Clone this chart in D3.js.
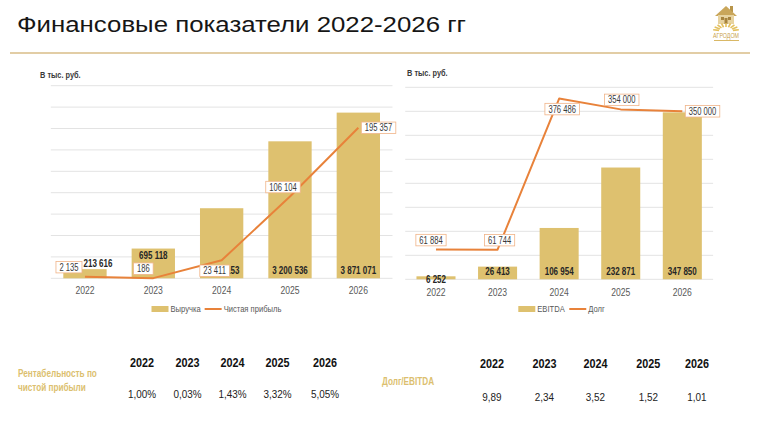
<!DOCTYPE html>
<html><head><meta charset="utf-8">
<script src="https://cdn.jsdelivr.net/npm/d3@7"></script>
<style>
html,body{margin:0;padding:0;background:#fff;}
svg{display:block;}
</style></head>
<body>
<svg id="c" width="758" height="424"></svg>
<script>
// ---------- DATA ----------
const years = ["2022","2023","2024","2025","2026"];
const revenue = [213616, 695118, 1637153, 3200536, 3871071];
const netProfit = [2135, 186, 23411, 106104, 195357];
const ebitda = [6252, 26413, 106954, 232871, 347850];
const debt = [61884, 61744, 376486, 354000, 350000];
const profitability = ["1,00%", "0,03%", "1,43%", "3,32%", "5,05%"];
const debtToEbitda = ["9,89", "2,34", "3,52", "1,52", "1,01"];
const leftAxisTicks = d3.range(0, 4500001, 500000);
const rightAxisTicks = d3.range(0, 400001, 50000);

// ---------- STYLE / LAYOUT ----------
const BAR = "#dec16f", LINE = "#e8823a", GOLD = "#dcbf6f", GRID = "#e3e3e3";
const FONT = "'Liberation Sans',Arial,sans-serif";
const fmt = v => d3.format(",")(v).replace(/,/g, " ");
const svg = d3.select("#c");
// condense a text horizontally (reference uses a narrow face)
function condense(sel, f) {
  sel.each(function () {
    const L = this.getComputedTextLength();
    d3.select(this).attr("textLength", L * f).attr("lengthAdjust", "spacingAndGlyphs");
  });
  return sel;
}

// Title
const title = svg.append("text").attr("x", 17).attr("y", 32)
  .attr("font-family", FONT).attr("font-size", 21.5)
  .attr("fill", "#161616").text("Финансовые показатели 2022-2026 гг");
title.attr("textLength", 449).attr("lengthAdjust", "spacingAndGlyphs");
svg.append("line").attr("x1", 10).attr("x2", 750).attr("y1", 53).attr("y2", 53)
  .attr("stroke", "#e2cda5").attr("stroke-width", 2);

// Logo
const logo = svg.append("g").attr("transform", "translate(713,4)");
logo.append("rect").attr("x", 17).attr("y", 2).attr("width", 3).attr("height", 6).attr("fill", "#b8954a");
logo.append("path").attr("d", "M2,12 L13,2 L24,12 Z").attr("fill", "#c9a65a");
logo.append("rect").attr("x", 5).attr("y", 11).attr("width", 16).attr("height", 9).attr("fill", "#e7d3a0");
logo.append("rect").attr("x", 8).attr("y", 13).attr("width", 3).attr("height", 3).attr("fill", "#a7843e");
logo.append("rect").attr("x", 15).attr("y", 13).attr("width", 3).attr("height", 3).attr("fill", "#a7843e");
logo.append("rect").attr("x", 11.5).attr("y", 14).attr("width", 3).attr("height", 6).attr("fill", "#a7843e");
for (let i = 0; i < 9; i++) {
  const a = Math.PI * (0.05 + 0.9 * i / 8);
  logo.append("line").attr("x1", 13 - Math.cos(a) * 7).attr("y1", 27 - Math.sin(a) * 4)
    .attr("x2", 13 - Math.cos(a) * 13).attr("y2", 27 - Math.sin(a) * 8)
    .attr("stroke", "#e3c05e").attr("stroke-width", 1.6);
}
logo.append("text").attr("x", 13).attr("y", 34).attr("text-anchor", "middle")
  .attr("font-family", FONT).attr("font-size", 7).attr("fill", "#c9a24a")
  .attr("textLength", 26).attr("lengthAdjust", "spacingAndGlyphs").text("АГРОДОМ");
logo.append("line").attr("x1", 1).attr("x2", 26).attr("y1", 36.5).attr("y2", 36.5)
  .attr("stroke", "#d9b866").attr("stroke-width", 1);

// ---------- generic combo chart ----------
function combo(cfg) {
  const g = svg.append("g");
  const x = d3.scaleBand().domain(years).range(cfg.xr).paddingInner(0.366).paddingOuter(0.183);
  const y = d3.scaleLinear().domain([0, cfg.yMax]).range([cfg.base, cfg.top]);
  const y2 = d3.scaleLinear().domain([0, cfg.y2Max]).range([cfg.base, cfg.top]);
  const cx = d => x(d) + x.bandwidth() / 2;

  condense(g.append("text").attr("x", cfg.unitX).attr("y", cfg.unitY).attr("font-family", FONT)
    .attr("font-size", 9).attr("font-weight", "bold").attr("fill", "#3a3a3a").text("В тыс. руб."), 0.82);

  g.selectAll(".grid").data(cfg.ticks).join("line")
    .attr("x1", cfg.xr[0]).attr("x2", cfg.xr[1])
    .attr("y1", d => y(d)).attr("y2", d => y(d))
    .attr("stroke", GRID).attr("stroke-width", 1);

  g.selectAll(".bar").data(cfg.bars).join("rect")
    .attr("x", (d, i) => x(years[i])).attr("width", x.bandwidth())
    .attr("y", d => y(d)).attr("height", d => cfg.base - y(d)).attr("fill", BAR);

  // x axis labels
  const ax = g.append("g").attr("transform", `translate(0,${cfg.base})`)
    .call(d3.axisBottom(x).tickSize(0).tickPadding(cfg.tickPad));
  ax.select(".domain").remove();
  condense(ax.selectAll("text").attr("font-family", FONT).attr("font-size", 10.5).attr("fill", "#595959"), 0.82);

  // bar labels
  cfg.bars.forEach((v, i) => {
    const mode = cfg.barLabelMode[i];
    let lx = cx(years[i]), ly = cfg.base - 8;
    if (mode === "insideTop") ly = y(v) + 6.5;
    if (mode === "aboveRight") { ly = y(v) - 6; lx += 13; }
    if (mode === "center") ly = (y(v) + cfg.base) / 2 + 2;
    if (mode === "base") ly = cfg.base - 7.7;
    condense(g.append("text").attr("x", lx).attr("y", ly).attr("dy", "0.35em").attr("text-anchor", "middle")
      .attr("font-family", FONT).attr("font-size", 10).attr("font-weight", "bold")
      .attr("fill", "#262626").text(fmt(v)), 0.8);
  });

  // line
  const line = d3.line().x((d, i) => cx(years[i])).y(d => y2(d));
  g.append("path").datum(cfg.line).attr("d", line).attr("fill", "none")
    .attr("stroke", LINE).attr("stroke-width", 2).attr("stroke-linejoin", "round");

  // line labels
  cfg.line.forEach((v, i) => {
    const p = cfg.lineLabelPos[i];
    const px = cx(years[i]), py = y2(v);
    const lg = g.append("g");
    const t = lg.append("text").attr("font-family", FONT).attr("font-size", 10)
      .attr("fill", "#3a3a3a").attr("text-anchor", "middle").attr("dy", "0.35em").text(fmt(v));
    const f = 0.76;
    const w = t.node().getComputedTextLength() * f + 7, h = 11.5;
    condense(t, f);
    let bx, by;
    if (p.side === "above") { bx = px + p.nudge; by = py - 9.5; }
    else if (p.side === "below") { bx = px + p.nudge; by = py + 10.5; }
    else { bx = px + 3 + w / 2; by = py; }
    t.attr("x", bx).attr("y", by);
    lg.insert("rect", "text").attr("x", bx - w / 2).attr("y", by - h / 2).attr("width", w).attr("height", h)
      .attr("fill", "#fff").attr("stroke", "#f0b488").attr("stroke-width", 0.8);
  });

  // legend
  const lgd = g.append("g");
  lgd.append("rect").attr("x", cfg.legX).attr("y", cfg.legY - 3).attr("width", 17).attr("height", 6).attr("fill", BAR);
  const t1 = condense(lgd.append("text").attr("x", cfg.legX + 19).attr("y", cfg.legY).attr("dy", "0.35em")
    .attr("font-family", FONT).attr("font-size", 9.5).attr("fill", "#595959").text(cfg.barName), 0.8);
  const lx0 = cfg.legX + 19 + t1.node().getComputedTextLength() * 0.8 + 10;
  lgd.append("line").attr("x1", lx0).attr("x2", lx0 + 17).attr("y1", cfg.legY).attr("y2", cfg.legY)
    .attr("stroke", LINE).attr("stroke-width", 2);
  condense(lgd.append("text").attr("x", lx0 + 19).attr("y", cfg.legY).attr("dy", "0.35em")
    .attr("font-family", FONT).attr("font-size", 9.5).attr("fill", "#595959").text(cfg.lineName), 0.8);
}

combo({
  xr: [50.8, 392.5], base: 278.3, top: 85.7, yMax: 4500000, y2Max: 250000, ticks: leftAxisTicks,
  bars: revenue, line: netProfit, unitX: 40, unitY: 78, tickPad: 8,
  barLabelMode: ["aboveRight", "insideTop", "base", "base", "base"],
  lineLabelPos: [{side: "above", nudge: -16}, {side: "above", nudge: -10}, {side: "below", nudge: -7},
                 {side: "above", nudge: -7}, {side: "right"}],
  legX: 151.5, legY: 309, barName: "Выручка", lineName: "Чистая прибыль"
});

combo({
  xr: [405.2, 713.1], base: 279.3, top: 87.3, yMax: 400000, y2Max: 400000, ticks: rightAxisTicks,
  bars: ebitda, line: debt, unitX: 407, unitY: 76, tickPad: 9,
  barLabelMode: ["center", "base", "base", "base", "base"],
  lineLabelPos: [{side: "above", nudge: -5}, {side: "above", nudge: 2}, {side: "below", nudge: 3},
                 {side: "above", nudge: 1}, {side: "right"}],
  legX: 518.3, legY: 309, barName: "EBITDA", lineName: "Долг"
});

// ---------- tables ----------
function table(cfg) {
  const g = svg.append("g");
  cfg.label.forEach((l, i) => condense(g.append("text").attr("x", cfg.labelX).attr("y", cfg.labelY + i * 13.5)
    .attr("font-family", FONT).attr("font-size", 10.5).attr("font-weight", "bold")
    .attr("fill", GOLD).text(l), 0.78));
  years.forEach((yr, i) => {
    condense(g.append("text").attr("x", cfg.cols[i]).attr("y", cfg.yearY).attr("text-anchor", "middle")
      .attr("font-family", FONT).attr("font-size", 12).attr("font-weight", "bold")
      .attr("fill", "#111").text(yr), 0.9);
    condense(g.append("text").attr("x", cfg.cols[i]).attr("y", cfg.valY).attr("text-anchor", "middle")
      .attr("font-family", FONT).attr("font-size", 11).attr("fill", "#222").text(cfg.values[i]), 0.9);
  });
}
table({label: ["Рентабельность по", "чистой прибыли"], labelX: 18, labelY: 377,
  cols: [142, 187.5, 232.5, 277.5, 325], yearY: 366.5, valY: 398, values: profitability});
table({label: ["Долг/EBITDA"], labelX: 382, labelY: 385,
  cols: [492, 544.5, 595.5, 648.3, 697], yearY: 368, valY: 400.5, values: debtToEbitda});
</script>
</body></html>
